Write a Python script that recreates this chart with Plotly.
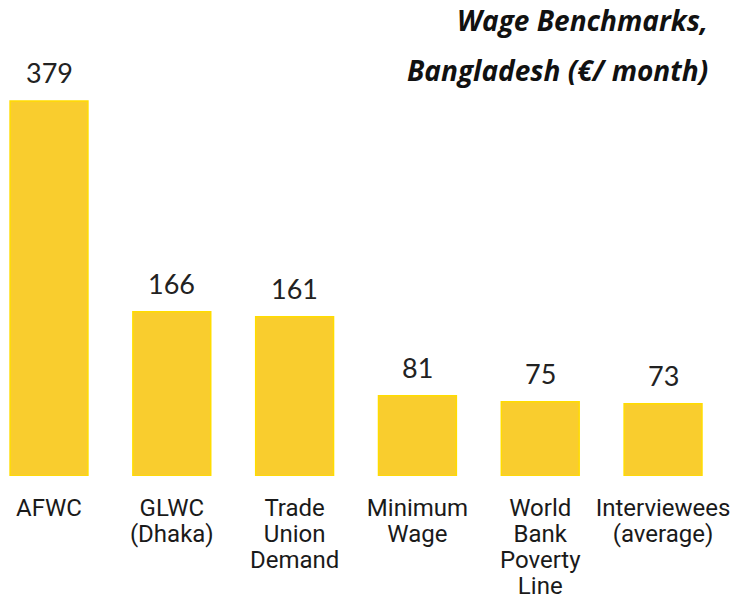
import plotly.graph_objects as go

# data
category_lines = [["AFWC"], ["GLWC", "(Dhaka)"], ["Trade", "Union", "Demand"], ["Minimum", "Wage"],
                  ["World", "Bank", "Poverty", "Line"], ["Interviewees", "(average)"]]
values = [379, 166, 161, 81, 75, 73]
title_lines = ["Wage Benchmarks,", "Bangladesh (€/ month)"]

# tick text: glyphs at 24px, line spacing from a 20px base font
categories = ["<br>".join(f"<span style='font-size:24px'>{w}</span>" for w in lines)
              for lines in category_lines]

fig = go.Figure()
fig.add_trace(go.Bar(
    x=categories, y=values,
    marker=dict(color="#F9CD2E", line=dict(color="#FFDC00", width=1.5)),
    hoverinfo="skip",
))

for c, v in zip(categories, values):
    fig.add_annotation(x=c, y=v, xref="x", yref="y", text=str(v), showarrow=False,
                       yanchor="bottom", yshift=10,
                       font=dict(family="Lato, Roboto, sans-serif", size=27, color="#222222"))

for txt, yy in zip(title_lines, [1.095, 0.977]):
    fig.add_annotation(x=0.964, y=yy, xref="paper", yref="paper", text=f"<b><i>{txt}</i></b>",
                       showarrow=False, xanchor="right", yanchor="middle",
                       font=dict(family="Open Sans, sans-serif", size=28, color="#111111"))

fig.update_layout(
    width=736, height=601,
    margin=dict(l=0, r=0, t=60, b=125),
    paper_bgcolor="white", plot_bgcolor="white",
    bargap=0.366,
    showlegend=False,
    xaxis=dict(range=[-0.399, 5.594], showgrid=False, zeroline=False, showline=False,
               automargin=False,
               ticks="outside", ticklen=15, tickcolor="rgba(0,0,0,0)",
               tickfont=dict(family="Roboto, Liberation Sans, sans-serif", size=20, color="#1a1a1a")),
    yaxis=dict(range=[0, 420.4], visible=False, automargin=False),
)

fig.write_html("out.html", config={"displayModeBar": False},
               post_script="document.body.style.margin='0';document.body.style.overflow='hidden';")
